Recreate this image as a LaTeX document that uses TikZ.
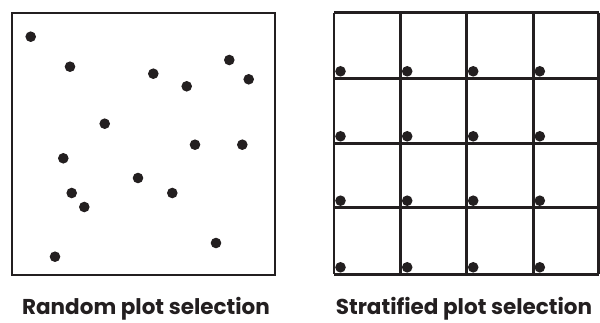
\documentclass[tikz,border=0pt]{standalone}
\usepackage{fontspec}
\setmainfont{Poppins}
\definecolor{ink}{HTML}{231F20}
\tikzset{
  frame/.style={draw=ink, line width=2.6pt},
  gridline/.style={draw=ink, line width=2.6pt},
  plotdot/.style={fill=ink, draw=none},
  caption/.style={font=\bfseries\fontsize{21.5}{26}\selectfont, text=ink, inner sep=0pt, anchor=base}
}
\begin{document}
\begin{tikzpicture}[x=1pt, y=-1pt]
\useasboundingbox (0,0) rectangle (600,323);
% random selection: one square with scattered plots
\draw[frame] (12,13) rectangle (275,275);
\foreach \px/\py in {30.7/36.7, 70/66.7, 153.3/73.7, 186.7/86.3, 229.3/60, 248.7/79.3,
  104.7/123.7, 195/144.7, 242.3/144.7, 63.3/158.3, 138/178, 71.7/193, 172.3/193,
  84.3/207, 216/243, 55/256.7}
  \fill[plotdot] (\px,\py) circle[radius=5.3];
% stratified selection: 4x4 grid, one plot at each cell's lower-left corner
\foreach \gx/\gy [count=\i] in {334/78.3, 400.7/78.3, 466.7/78.3, 533.3/78.3,
  334/143.3, 400.7/143.3, 466.7/143.3, 533.3/143.3,
  334/207.7, 400.7/207.7, 466.7/207.7, 533.3/207.7,
  334/274.3, 400.7/274.3, 466.7/274.3, 533.3/274.3}
  \fill[plotdot] (\gx+6.5,\gy-7) circle[radius=5.3];
\foreach \vx in {334, 400.7, 466.7, 533.3, 598.7}
  \draw[gridline] (\vx,12.7) -- (\vx,274.3);
\foreach \hy in {12.7, 78.3, 143.3, 207.7, 274.3}
  \draw[gridline] (334,\hy) -- (598.7,\hy);
% captions
\node[caption] (randcap) at (146,315) {Random plot selection};
\node[caption] (stratcap) at (464,315) {Stratified plot selection};
\end{tikzpicture}
\end{document}
